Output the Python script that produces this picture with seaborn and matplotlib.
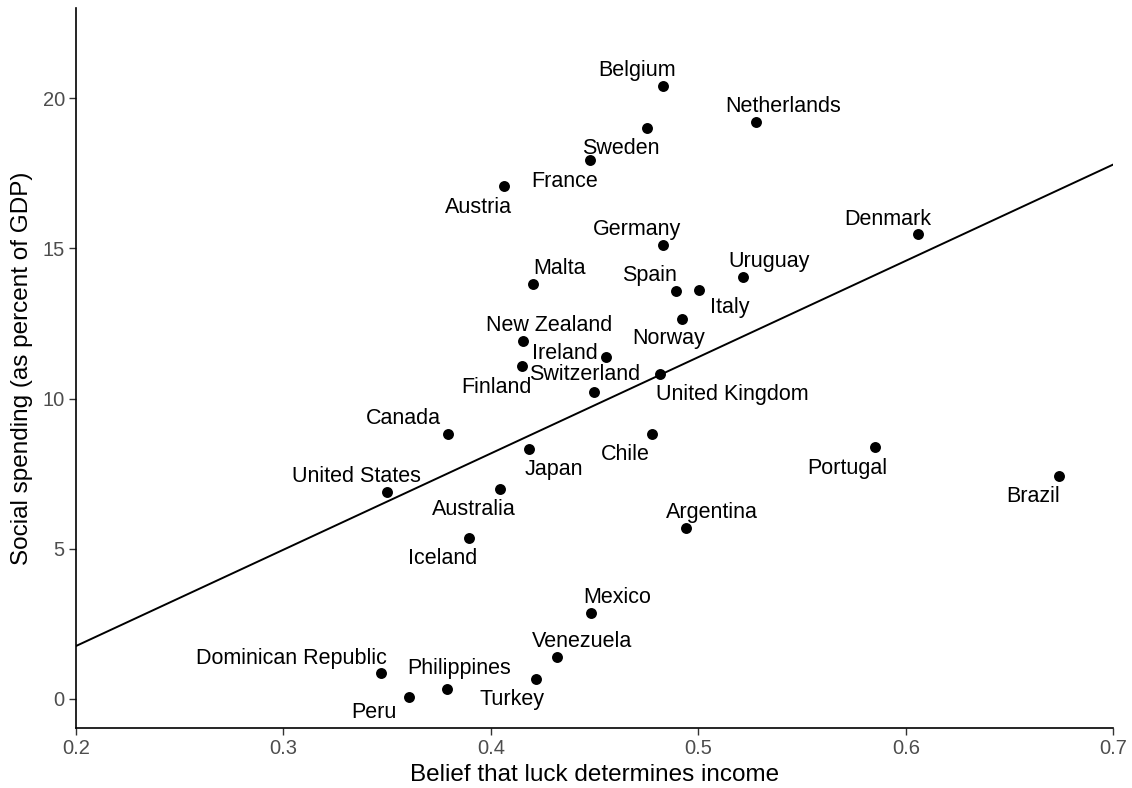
import numpy as np
import pandas as pd
import matplotlib
matplotlib.use("Agg")
import matplotlib.pyplot as plt
import seaborn as sns

# Data
countries = ["Belgium", "Sweden", "France", "Austria", "Germany", "Netherlands",
             "Denmark", "Malta", "Spain", "Italy", "Uruguay", "Norway",
             "New Zealand", "Ireland", "Finland", "United Kingdom", "Switzerland",
             "Canada", "Japan", "Chile", "United States", "Australia", "Portugal",
             "Brazil", "Iceland", "Argentina", "Mexico", "Venezuela", "Turkey",
             "Philippines", "Peru", "Dominican Republic"]
luck_belief = [0.483, 0.475, 0.448, 0.4065, 0.483, 0.528,
               0.606, 0.4205, 0.489, 0.5004, 0.5213, 0.4923,
               0.4154, 0.4554, 0.415, 0.4817, 0.4496,
               0.3792, 0.4186, 0.4776, 0.3501, 0.4046, 0.5849,
               0.674, 0.3895, 0.4938, 0.4483, 0.4318, 0.4216,
               0.3787, 0.3606, 0.3468]
social_spending = [20.42, 19.02, 17.93, 17.06, 15.12, 19.22,
                   15.47, 13.82, 13.59, 13.62, 14.04, 12.66,
                   11.90, 11.38, 11.07, 10.82, 10.22,
                   8.81, 8.31, 8.83, 6.88, 6.98, 8.40,
                   7.43, 5.37, 5.69, 2.87, 1.38, 0.66,
                   0.34, 0.07, 0.87]

# label placement (pixel offsets from the point to label centre / baseline)
label_offsets = {
    "Belgium": (-26, -10), "Sweden": (-26, 26), "France": (-26, 27),
    "Austria": (-26, 27), "Germany": (-26, -10), "Netherlands": (27, -10),
    "Denmark": (-31, -9), "Malta": (26, -10), "Spain": (-26, -10),
    "Italy": (31, 23), "Uruguay": (26, -10), "Norway": (-14, 25),
    "New Zealand": (26, -10), "Ireland": (-41, 2), "Finland": (-26, 27),
    "United Kingdom": (72, 26), "Switzerland": (-9, -12), "Canada": (-44, -10),
    "Japan": (24, 26), "Chile": (-27, 26), "United States": (-31, -10),
    "Australia": (-27, 26), "Portugal": (-27, 27), "Brazil": (-26, 26),
    "Iceland": (-26, 26), "Argentina": (26, -10), "Mexico": (26, -10),
    "Venezuela": (25, -10), "Turkey": (-24, 26), "Philippines": (12, -15),
    "Peru": (-35, 21), "Dominican Republic": (-89, -9),
}

df = pd.DataFrame({"country": countries, "luck": luck_belief, "spending": social_spending})

sns.set_style("white")
plt.rcParams["font.family"] = ["Liberation Sans", "DejaVu Sans"]

fig = plt.figure(figsize=(11.32, 7.88), dpi=100)
ax = fig.add_axes([0.0671, 0.0758, 0.9164, 0.914])
ax.set_xlim(0.2, 0.7)
ax.set_ylim(-0.976, 23.0)

sns.regplot(data=df, x="luck", y="spending", ax=ax, ci=None, truncate=False,
            scatter_kws={"s": 62, "color": "black", "linewidths": 0, "alpha": 1},
            line_kws={"color": "black", "lw": 1.4})

for name, xv, yv in zip(countries, luck_belief, social_spending):
    dx, dy = label_offsets[name]
    ax.annotate(name, (xv, yv), xytext=(dx * 0.72, -dy * 0.72), textcoords="offset points",
                ha="center", va="baseline", fontsize=15.5, color="black")

ax.set_xlim(0.2, 0.7)
ax.set_ylim(-0.976, 23.0)
ax.set_xticks([0.2, 0.3, 0.4, 0.5, 0.6, 0.7])
ax.set_xticklabels(["0.2", "0.3", "0.4", "0.5", "0.6", "0.7"])
ax.set_yticks([0, 5, 10, 15, 20])
ax.tick_params(axis="both", bottom=True, left=True, length=5, width=1.0,
               color="#333333", labelcolor="#4D4D4D", labelsize=14.5, pad=3,
               direction="out")
ax.set_xlabel("Belief that luck determines income", fontsize=17.5, color="black", labelpad=4)
ax.set_ylabel("Social spending (as percent of GDP)", fontsize=17.5, color="black", labelpad=7)

sns.despine(ax=ax)
for side in ["left", "bottom"]:
    ax.spines[side].set_color("black")
    ax.spines[side].set_linewidth(1.2)

fig.savefig("out.png", dpi=100)
